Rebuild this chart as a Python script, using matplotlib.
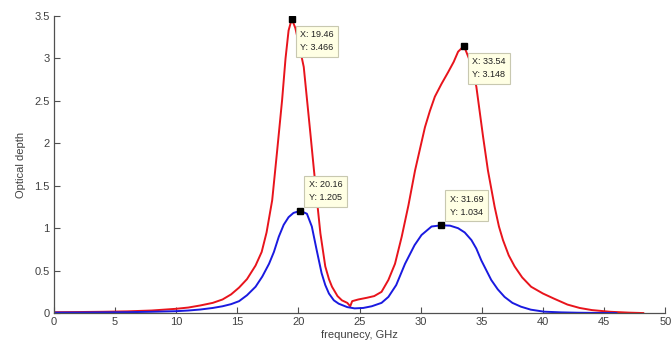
import matplotlib
matplotlib.use("Agg")
import matplotlib.pyplot as plt

plt.rcParams['font.family'] = ['Liberation Sans', 'DejaVu Sans']

# red curve (upper)
red_x = [0, 2, 4, 6, 8, 10, 11, 12, 13, 13.8, 14.5, 15.15, 15.8, 16.5, 17.0, 17.4, 17.86,
         18.27, 18.67, 18.95, 19.2, 19.46, 19.75, 20.03, 20.44, 20.71, 20.98, 21.25, 21.52,
         21.8, 22.2, 22.5, 22.75, 23.2, 23.56, 24.0, 24.24, 24.4, 24.9, 25.6, 26.2, 26.8,
         27.36, 27.9, 28.45, 29.0, 29.54, 30.0, 30.35, 30.75, 31.16, 31.7, 32.25, 32.7,
         33.06, 33.54, 34.0, 34.55, 35.1, 35.5, 36.05, 36.4, 36.73, 37.2, 37.68, 38.3,
         39.03, 40.0, 40.9, 42.0, 43.0, 44.0, 45.5, 47.0, 48.2]
red_y = [0.01, 0.012, 0.015, 0.02, 0.03, 0.05, 0.065, 0.09, 0.12, 0.16, 0.22, 0.3,
         0.4, 0.56, 0.72, 0.95, 1.33, 1.92, 2.51, 3.0, 3.33, 3.466, 3.36, 3.18, 2.9,
         2.51, 2.12, 1.72, 1.33, 0.94, 0.55, 0.4, 0.31, 0.2, 0.15, 0.12, 0.08, 0.14,
         0.16, 0.18, 0.2, 0.25, 0.39, 0.58, 0.9, 1.27, 1.68, 1.97, 2.19, 2.38, 2.55,
         2.7, 2.84, 2.96, 3.08, 3.148, 2.98, 2.67, 2.08, 1.68, 1.25, 1.02, 0.86, 0.68,
         0.55, 0.42, 0.31, 0.23, 0.17, 0.1, 0.06, 0.035, 0.015, 0.005, 0.0]

# blue curve (lower)
blue_x = [0, 2, 4, 6, 8, 10, 11, 12, 13, 13.8, 14.5, 15.15, 15.8, 16.5, 17.05, 17.6,
          18.0, 18.4, 18.8, 19.2, 19.6, 20.16, 20.7, 21.1, 21.5, 21.9, 22.2, 22.5, 22.9,
          23.3, 24.0, 24.6, 25.3, 26.0, 26.8, 27.36, 28.0, 28.72, 29.5, 30.07, 30.89,
          31.69, 32.4, 33.06, 33.6, 34.15, 34.55, 34.96, 35.77, 36.3, 36.86, 37.5, 38.2,
          39.0, 40.1, 41.5, 42.8, 44.0, 46.0]
blue_y = [0.005, 0.006, 0.008, 0.01, 0.015, 0.022, 0.03, 0.042, 0.06, 0.08, 0.105,
          0.14, 0.21, 0.31, 0.43, 0.58, 0.72, 0.9, 1.04, 1.13, 1.18, 1.205, 1.17, 1.02,
          0.74, 0.47, 0.33, 0.23, 0.15, 0.11, 0.07, 0.055, 0.06, 0.08, 0.12, 0.19, 0.33,
          0.58, 0.8, 0.92, 1.02, 1.034, 1.03, 1.0, 0.95, 0.86, 0.76, 0.62, 0.39, 0.28,
          0.19, 0.12, 0.075, 0.04, 0.016, 0.008, 0.004, 0.002, 0.0]

tips = [(19.46, 3.466, 'below'), (33.54, 3.148, 'below'),
        (20.16, 1.205, 'above'), (31.69, 1.034, 'above')]

fig = plt.figure(figsize=(6.72, 3.49), dpi=100)
ax = fig.add_axes([0.080, 0.103, 0.910, 0.851])

ax.plot(red_x, red_y, color='#e8141c', lw=1.4)
ax.plot(blue_x, blue_y, color='#1a1ae0', lw=1.4)

for tx, ty, where in tips:
    ax.plot([tx], [ty], 's', color='black', ms=5, zorder=5)
    label = 'X: %g\nY: %.4g' % (tx, ty)
    if where == 'below':
        off, va = (6, -8), 'top'
    else:
        off, va = (6, 6), 'bottom'
    ax.annotate(label, (tx, ty), xytext=off, textcoords='offset points',
                ha='left', va=va, fontsize=6.5, color='#202020', linespacing=1.6,
                bbox=dict(boxstyle='square,pad=0.5', fc='#ffffe4', ec='#c8c8b0', lw=0.8),
                zorder=6)

ax.set_xlim(0, 50)
ax.set_ylim(0, 3.5)
ax.set_xticks(range(0, 51, 5))
ax.set_yticks([0, 0.5, 1, 1.5, 2, 2.5, 3, 3.5])
ax.set_yticklabels(['0', '0.5', '1', '1.5', '2', '2.5', '3', '3.5'])

for s in ['top', 'right']:
    ax.spines[s].set_visible(False)
for s in ['left', 'bottom']:
    ax.spines[s].set_color('#505050')
    ax.spines[s].set_linewidth(0.9)
ax.tick_params(direction='in', length=4, width=0.8, colors='#505050',
               labelsize=8, labelcolor='#404040', pad=3)

ax.set_xlabel('frequnecy, GHz', fontsize=8, color='#404040', labelpad=2)
ax.set_ylabel('Optical depth', fontsize=8, color='#404040', labelpad=6)

fig.savefig('out.png', dpi=100)
